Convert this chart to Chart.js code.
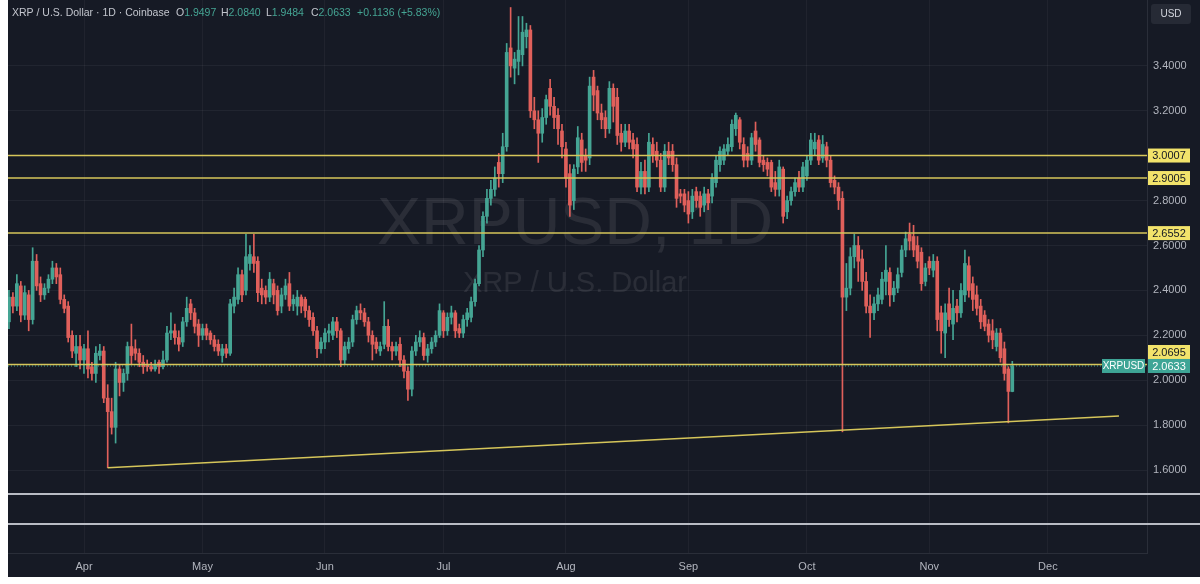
<!DOCTYPE html>
<html><head><meta charset="utf-8">
<script src="https://cdn.jsdelivr.net/npm/chart.js@4.4.1/dist/chart.umd.min.js"></script>
<style>html,body{margin:0;padding:0;background:#fff;}canvas{display:block;}</style>
</head><body>
<canvas id="c" width="1200" height="584"></canvas>
<script>
// ---- DATA (daily candles, XRP/USD, 13 Mar -> 22 Nov) ----
const FIRST_DAY = -19; // 13 Mar, counted in days from 1 Apr
const opens = [
 // Mar
 2.26,2.37,2.33,2.42,2.29,2.38,2.27,2.53,2.43,2.38,2.41,2.45,2.50,2.47,2.36,2.33,2.20,2.12,2.15,
 // Apr
 2.09,2.14,2.06,2.03,2.11,2.13,1.92,1.86,1.79,2.05,1.99,2.03,2.15,2.14,2.12,2.08,2.07,2.06,2.05,2.08,2.06,2.09,2.21,2.22,2.19,2.17,2.26,2.34,2.30,2.25,
 // May
 2.20,2.23,2.21,2.18,2.16,2.11,2.14,2.12,2.33,2.36,2.47,2.40,2.52,2.55,2.53,2.41,2.40,2.37,2.43,2.40,2.33,2.38,2.43,2.34,2.33,2.37,2.36,2.31,2.28,2.22,2.14,
 // Jun
 2.17,2.21,2.20,2.26,2.22,2.09,2.14,2.17,2.27,2.31,2.30,2.26,2.20,2.17,2.13,2.16,2.24,2.15,2.13,2.16,2.09,2.04,1.96,2.13,2.17,2.19,2.11,2.14,2.17,2.20,
 // Jul
 2.30,2.22,2.28,2.30,2.23,2.21,2.27,2.28,2.35,2.43,2.58,2.73,2.81,2.85,2.97,2.92,3.04,3.48,3.39,3.42,3.45,3.53,3.56,3.20,3.16,3.10,3.17,3.30,3.22,3.18,3.11,
 // Aug
 3.03,2.92,2.80,2.95,3.07,3.00,2.99,3.35,3.29,3.19,3.17,3.12,3.30,3.26,3.10,3.06,3.11,3.07,3.05,2.86,2.93,2.86,3.05,3.02,2.98,2.86,3.02,3.02,2.96,2.83,2.83,
 // Sep
 2.80,2.75,2.84,2.82,2.78,2.83,2.82,2.88,2.96,2.98,3.02,3.04,3.12,3.16,3.05,3.01,2.98,3.11,3.07,2.98,2.97,2.97,2.88,2.85,2.94,2.75,2.80,2.84,2.90,2.86,
 // Oct
 2.91,2.98,3.03,3.07,2.99,3.04,2.98,2.89,2.86,2.81,2.37,2.41,2.55,2.60,2.54,2.44,2.33,2.30,2.34,2.36,2.44,2.48,2.38,2.41,2.48,2.58,2.65,2.64,2.60,2.57,2.44,
 // Nov
 2.53,2.49,2.53,2.30,2.21,2.34,2.25,2.33,2.30,2.38,2.51,2.43,2.38,2.33,2.29,2.25,2.22,2.15,2.21,2.14,2.05,1.9497
];
const highs = [
 2.40,2.39,2.47,2.44,2.42,2.40,2.59,2.56,2.46,2.43,2.47,2.53,2.52,2.50,2.38,2.35,2.22,2.20,2.20,
 2.16,2.22,2.08,2.15,2.16,2.15,1.98,1.92,2.08,2.07,2.05,2.17,2.25,2.18,2.14,2.11,2.09,2.08,2.09,2.09,2.13,2.24,2.30,2.25,2.22,2.28,2.37,2.36,2.32,2.27,
 2.25,2.25,2.22,2.20,2.18,2.16,2.16,2.36,2.41,2.50,2.49,2.65,2.60,2.65,2.55,2.45,2.42,2.48,2.45,2.42,2.41,2.45,2.48,2.38,2.40,2.38,2.37,2.33,2.30,2.24,2.19,
 2.23,2.25,2.28,2.28,2.23,2.17,2.19,2.29,2.33,2.34,2.32,2.28,2.22,2.19,2.17,2.35,2.27,2.17,2.17,2.19,2.11,2.06,2.15,2.20,2.22,2.21,2.16,2.19,2.22,2.34,
 2.31,2.30,2.33,2.31,2.25,2.29,2.32,2.37,2.45,2.60,2.75,2.85,2.89,2.95,3.01,3.10,3.50,3.66,3.46,3.62,3.62,3.59,3.58,3.26,3.20,3.21,3.27,3.34,3.26,3.21,3.14,
 3.06,2.96,2.96,3.13,3.10,3.03,3.35,3.38,3.31,3.23,3.20,3.33,3.32,3.30,3.14,3.14,3.14,3.10,3.08,2.97,2.98,3.10,3.08,3.06,3.01,3.05,3.06,3.05,2.99,2.85,2.85,
 2.84,2.85,2.86,2.84,2.86,2.85,2.92,3.00,3.04,3.05,3.08,3.16,3.19,3.17,3.08,3.04,3.10,3.15,3.08,3.00,2.99,2.98,2.93,2.98,2.95,2.82,2.86,2.90,2.93,2.97,
 3.00,3.10,3.10,3.09,3.09,3.06,3.00,2.91,2.88,2.84,2.52,2.59,2.65,2.64,2.58,2.48,2.38,2.37,2.41,2.48,2.60,2.50,2.44,2.50,2.60,2.66,2.70,2.69,2.64,2.59,2.52,
 2.55,2.56,2.55,2.33,2.34,2.41,2.40,2.36,2.43,2.58,2.55,2.46,2.42,2.36,2.31,2.27,2.27,2.23,2.23,2.17,2.06,2.0840
];
const lows = [
 2.23,2.30,2.31,2.26,2.27,2.22,2.25,2.40,2.35,2.36,2.39,2.43,2.43,2.34,2.30,2.17,2.10,2.06,2.05,
 2.03,2.01,2.00,1.99,2.09,1.90,1.61,1.76,1.72,1.93,1.95,2.00,2.07,2.09,2.06,2.03,2.04,2.04,2.04,2.03,2.05,2.08,2.18,2.16,2.13,2.15,2.24,2.27,2.21,2.15,
 2.18,2.18,2.16,2.13,2.11,2.08,2.10,2.11,2.30,2.34,2.35,2.38,2.49,2.48,2.35,2.34,2.34,2.35,2.34,2.29,2.30,2.36,2.31,2.31,2.29,2.30,2.28,2.24,2.20,2.10,2.12,
 2.14,2.17,2.18,2.19,2.06,2.07,2.12,2.15,2.25,2.27,2.24,2.17,2.09,2.12,2.11,2.14,2.13,2.09,2.11,2.06,2.01,1.91,1.93,2.11,2.15,2.09,2.08,2.12,2.15,2.19,
 2.19,2.20,2.25,2.19,2.19,2.19,2.24,2.26,2.33,2.42,2.55,2.70,2.78,2.82,2.86,2.88,3.02,3.35,3.32,3.36,3.40,3.48,3.17,3.12,2.97,3.06,3.14,3.18,3.12,3.05,2.99,
 2.86,2.73,2.76,2.92,2.93,2.93,2.96,3.20,3.16,3.12,3.08,3.10,3.15,3.05,3.02,3.04,3.03,2.99,2.84,2.83,2.83,2.84,2.97,2.95,2.84,2.84,2.96,2.93,2.77,2.79,2.75,
 2.70,2.72,2.77,2.73,2.75,2.76,2.79,2.86,2.93,2.96,3.00,3.02,3.09,3.03,2.95,2.95,2.96,3.02,2.95,2.93,2.91,2.84,2.82,2.82,2.70,2.72,2.78,2.82,2.84,2.84,
 2.89,2.96,3.00,2.96,2.97,2.95,2.86,2.83,2.76,1.77,2.31,2.38,2.50,2.44,2.40,2.30,2.19,2.27,2.31,2.34,2.38,2.33,2.35,2.39,2.46,2.55,2.58,2.55,2.50,2.40,2.42,
 2.47,2.46,2.22,2.12,2.10,2.24,2.18,2.26,2.28,2.35,2.37,2.31,2.29,2.23,2.22,2.17,2.14,2.13,2.08,2.00,1.81,1.9484
];
const closes = [
 2.37,2.33,2.43,2.29,2.39,2.27,2.53,2.42,2.38,2.41,2.45,2.50,2.46,2.36,2.32,2.19,2.13,2.15,2.09,
 2.14,2.05,2.03,2.12,2.13,1.92,1.86,1.79,2.05,1.99,2.03,2.15,2.11,2.12,2.08,2.06,2.06,2.05,2.07,2.06,2.09,2.21,2.22,2.19,2.16,2.26,2.32,2.30,2.24,2.20,
 2.23,2.20,2.18,2.15,2.13,2.14,2.12,2.34,2.37,2.47,2.38,2.55,2.56,2.52,2.39,2.38,2.37,2.45,2.38,2.31,2.38,2.42,2.33,2.36,2.37,2.33,2.31,2.27,2.22,2.14,2.17,
 2.21,2.22,2.26,2.22,2.09,2.15,2.17,2.27,2.31,2.30,2.26,2.20,2.16,2.14,2.15,2.24,2.15,2.13,2.15,2.09,2.04,1.96,2.13,2.17,2.19,2.11,2.14,2.17,2.20,2.31,
 2.22,2.28,2.30,2.22,2.21,2.27,2.30,2.35,2.43,2.58,2.73,2.81,2.85,2.90,2.92,3.04,3.46,3.40,3.43,3.47,3.55,3.56,3.20,3.16,3.10,3.17,3.25,3.22,3.17,3.12,3.04,
 2.90,2.78,2.94,3.08,2.97,2.98,3.31,3.27,3.19,3.16,3.12,3.30,3.22,3.09,3.06,3.11,3.06,3.03,2.86,2.93,2.86,3.06,3.00,2.98,2.86,3.02,2.99,2.96,2.81,2.82,2.78,
 2.74,2.82,2.80,2.77,2.83,2.79,2.90,2.98,3.02,3.03,3.05,3.14,3.18,3.06,2.98,2.98,3.08,3.05,2.97,2.96,2.94,2.86,2.85,2.95,2.73,2.80,2.84,2.88,2.86,2.95,
 2.98,3.07,3.06,2.98,3.05,2.98,2.88,2.86,2.80,2.37,2.41,2.55,2.60,2.53,2.44,2.33,2.30,2.34,2.38,2.45,2.49,2.38,2.41,2.47,2.58,2.63,2.62,2.58,2.53,2.43,2.50,
 2.50,2.53,2.27,2.22,2.30,2.27,2.32,2.30,2.40,2.52,2.40,2.36,2.32,2.26,2.24,2.20,2.18,2.21,2.10,2.03,1.95,2.0633
];
const monthLabels = ['Apr','May','Jun','Jul','Aug','Sep','Oct','Nov','Dec'];
const monthStarts = [0,30,61,91,122,153,183,214,244];
const priceTicks = [1.6,1.8,2.0,2.2,2.4,2.6,2.8,3.0,3.2,3.4];
const levels = [3.0007, 2.9005, 2.6552, 2.0695];
const lastPrice = 2.0633;
const trendDays = [6, 262];
const trendPrices = [1.61, 1.84];

// ---- view range / styles ----
const X_MIN = -19.24, X_MAX = 269.1;
const Y_MIN = 1.2303, Y_MAX = 3.6935;
const UP = '#45a594', DOWN = '#e0605b', GOLD = '#d6c65a', BG = '#161a25', TXT = '#b2b5be';

const colors = closes.map((c,i)=> c >= opens[i] ? UP : DOWN);
const bodyData = opens.map((o,i)=>({x: FIRST_DAY+i, y:[o, closes[i]]}));
const wickData = lows.map((l,i)=>({x: FIRST_DAY+i, y:[l, highs[i]]}));

const levelSets = levels.map(v=>({
  type:'line', data:[{x:X_MIN,y:v},{x:X_MAX,y:v}], borderColor:GOLD, borderWidth:1.5,
  pointRadius:0, order:-1
}));

const bgPlugin = {
  id:'bg',
  beforeDraw(ch){
    const c = ch.ctx; c.save();
    c.fillStyle='#ffffff'; c.fillRect(0,0,ch.width,ch.height);
    c.fillStyle=BG; c.fillRect(8,0,ch.width-8,577);
    c.restore();
  },
  beforeDatasetsDraw(ch){
    const c = ch.ctx; c.save();
    c.fillStyle='rgba(255,255,255,0.085)'; c.textAlign='center'; c.textBaseline='middle';
    c.font='66px "Liberation Sans", Arial, sans-serif';
    c.fillText('XRPUSD, 1D', 575, 226);
    c.font='29px "Liberation Sans", Arial, sans-serif';
    c.fillText('XRP / U.S. Dollar', 575, 284);
    // pane separators
    c.fillStyle='#b9bcc4';
    c.fillRect(8,493,ch.width-8,2);
    c.fillRect(8,523,ch.width-8,2);
    c.restore();
  },
  afterDraw(ch){
    const c = ch.ctx, ys = ch.scales.y; c.save();
    c.textBaseline='middle';
    // header
    c.font='10.5px "Liberation Sans", Arial, sans-serif';
    c.fillStyle='#c3c6ce'; c.textAlign='left';
    c.fillText('XRP / U.S. Dollar · 1D · Coinbase', 12, 13);
    const parts = [['O','1.9497',176],['H','2.0840',221],['L','1.9484',266],['C','2.0633',311]];
    parts.forEach(p=>{
      c.fillStyle='#c3c6ce'; c.fillText(p[0], p[2], 13);
      const w = c.measureText(p[0]).width;
      c.fillStyle=UP; c.fillText(p[1], p[2]+w, 13);
    });
    c.fillStyle=UP; c.fillText('+0.1136 (+5.83%)', 357, 13);
    // USD box
    c.fillStyle='#262a35'; c.beginPath();
    if (c.roundRect) c.roundRect(1151,4,40,20,3); else c.rect(1151,4,40,20);
    c.fill();
    c.fillStyle='#d1d4dc'; c.textAlign='center'; c.font='10px "Liberation Sans", Arial, sans-serif';
    c.fillText('USD', 1171, 14);
    // level tags
    c.font='11px "Liberation Sans", Arial, sans-serif';
    const lastY = ys.getPixelForValue(lastPrice);
    levels.forEach(v=>{
      let y = ys.getPixelForValue(v);
      if (Math.abs(y-lastY) < 14) y = lastY - 14;
      c.fillStyle='#f2e36b'; c.fillRect(1148, y-7, 42, 14);
      c.fillStyle='#131722'; c.fillText(v.toFixed(4), 1169, y+0.5);
    });
    // last price tag
    c.fillStyle='#3ea596'; c.fillRect(1148, lastY-7, 42, 14);
    c.fillRect(1102, lastY-7, 43, 14);
    c.fillStyle='#ffffff';
    c.fillText(lastPrice.toFixed(4), 1169, lastY+0.5);
    c.font='10px "Liberation Sans", Arial, sans-serif';
    c.fillText('XRPUSD', 1123.5, lastY+0.5);
    c.restore();
  }
};

new Chart(document.getElementById('c'), {
  type:'bar',
  data:{ datasets:[
    {data:bodyData, backgroundColor:colors, barThickness:3, minBarLength:1, grouped:false, order:1},
    {data:wickData, backgroundColor:colors, barThickness:1, grouped:false, order:2},
    ...levelSets,
    {type:'line', data:[{x:X_MIN,y:lastPrice},{x:X_MAX,y:lastPrice}], borderColor:'#3ea596', borderWidth:1, borderDash:[1,2], pointRadius:0, order:-1},
    {type:'line', data:trendDays.map((d,i)=>({x:d,y:trendPrices[i]})), borderColor:GOLD, borderWidth:1.5, pointRadius:0, order:-2}
  ]},
  options:{
    responsive:false, animation:false, devicePixelRatio:1,
    layout:{padding:{left:8, top:0, right:0, bottom:7}},
    plugins:{legend:{display:false}, tooltip:{enabled:false}},
    scales:{
      x:{type:'linear', min:X_MIN, max:X_MAX, offset:false,
        afterBuildTicks:s=>{ s.ticks = monthStarts.map(v=>({value:v})); },
        afterFit:s=>{ s.height = 24; s.paddingLeft = 0; s.paddingRight = 0; },
        ticks:{callback:v=>monthLabels[monthStarts.indexOf(v)], color:TXT, font:{size:11, family:'"Liberation Sans", Arial, sans-serif'}, maxRotation:0, autoSkip:false, padding:7},
        grid:{color:'rgba(255,255,255,0.045)', drawTicks:false, offset:false},
        border:{color:'#2a2e39'}
      },
      y:{type:'linear', position:'right', min:Y_MIN, max:Y_MAX,
        afterBuildTicks:s=>{ s.ticks = priceTicks.map(v=>({value:v})); },
        afterFit:s=>{ s.width = 53; s.paddingTop = 0; s.paddingBottom = 0; },
        ticks:{callback:v=>Number(v).toFixed(4), color:TXT, font:{size:11, family:'"Liberation Sans", Arial, sans-serif'}, padding:6},
        grid:{color:'rgba(255,255,255,0.05)', drawTicks:false},
        border:{color:'#2a2e39'}
      }
    }
  },
  plugins:[bgPlugin]
});
</script>
</body></html>
